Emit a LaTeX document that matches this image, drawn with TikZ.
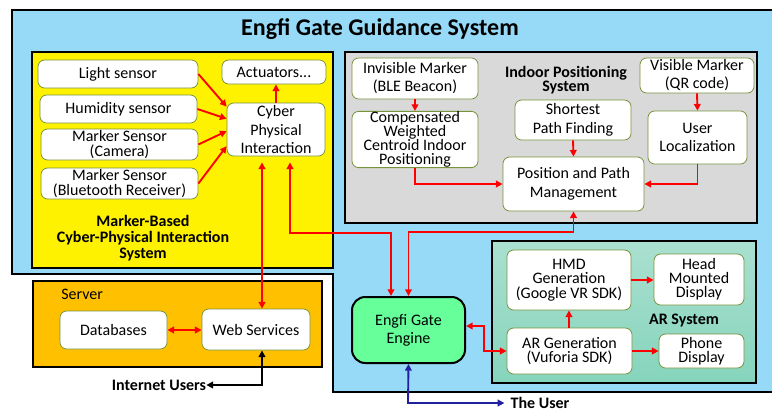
\documentclass[tikz,border=0pt]{standalone}
\usepackage{fontspec}
\setmainfont{Carlito}
\usetikzlibrary{arrows.meta,calc}
\definecolor{bgblue}{RGB}{150,218,248}
\definecolor{ygreen}{RGB}{119,147,60}
\definecolor{gray1}{RGB}{217,217,217}
\definecolor{orng}{RGB}{255,192,0}
\definecolor{engreen}{RGB}{102,255,153}
\definecolor{artop}{RGB}{170,224,208}
\definecolor{arbot}{RGB}{134,212,188}
\definecolor{navy1}{RGB}{32,32,160}
\lineskiplimit=-20pt
\lineskip=0pt
\begin{document}
\begin{tikzpicture}[x=0.75pt,y=-0.75pt,
  >={Triangle[length=5pt,width=5pt]},
  rc/.style n args={4}{minimum width={(#3-#1)*0.75pt}, minimum height={(#4-#2)*0.75pt},
    at={({(#1+#3)/2},{(#2+#4)/2})}},
  box/.style={draw=ygreen, fill=white, rounded corners=5pt, line width=0.6pt, align=center, inner sep=0pt,
    font=\fontsize{12}{14}\selectfont},
  tight/.style={font=\fontsize{12}{10.6}\selectfont},
  mid/.style={font=\fontsize{12}{13.5}\selectfont},
  cont/.style={draw=black, line width=1.5pt, inner sep=0pt},
  lbl/.style={font=\fontsize{12}{11}\selectfont\bfseries, align=center, inner sep=0pt},
  ra/.style={draw=red, line width=1.4pt},
  ka/.style={draw=black, line width=1.4pt},
  ba/.style={draw=navy1, line width=1.4pt}]
\useasboundingbox (0,0) rectangle (772,412);
% outer region
\draw[draw=black, line width=1.5pt, fill=bgblue] (12,10) -- (774,10) -- (774,392) -- (333,392) -- (333,274) -- (12,274) -- cycle;
\node[font=\fontsize{18}{20}\selectfont\bfseries] (title) at (380,29) {Engfi Gate Guidance System};
% containers
\node[cont, fill=yellow, rc={32}{52}{333}{268}] (ybox) {};
\node[cont, fill=gray1, rc={345}{52}{757}{223}] (gbox) {};
\node[cont, top color=artop, bottom color=arbot, rc={492}{241}{756}{383}] (arbox) {};
\node[cont, fill=orng, rc={33}{281}{322}{367}] (sbox) {};
% yellow nodes
\node[box, rc={38}{60}{198}{88}] (light) {Light sensor};
\node[box, rc={40}{95}{197}{123}] (hum) {Humidity sensor};
\node[box, tight, rc={41}{129}{198}{160}] (cam) {Marker Sensor\\(Camera)};
\node[box, tight, rc={41}{168}{198}{199}] (bt) {Marker Sensor\\(Bluetooth Receiver)};
\node[box, rc={222}{60}{326}{84}] (act) {Actuators...};
\node[box, rc={227}{103}{325}{156}] (cpi) {Cyber\\Physical\\Interaction};
\node[lbl, font=\fontsize{12}{11.8}\selectfont\bfseries] (ylbl) at (143,238) {Marker-Based\\Cyber-Physical Interaction\\System};
% gray nodes
\node[box, mid, rc={352}{58}{478}{99}] (ble) {Invisible Marker\\(BLE Beacon)};
\node[box, tight, rc={352}{113}{478}{166}] (cwc) {Compensated\\Weighted\\Centroid Indoor\\Positioning};
\node[lbl] (glbl) at (566,80) {Indoor Positioning\\System};
\node[box, rc={515}{100}{631}{140}] (spf) {Shortest\\Path Finding};
\node[box, mid, rc={640}{58}{754}{93}] (qr) {Visible Marker\\(QR code)};
\node[box, rc={648}{111}{747}{164}] (ul) {User\\Localization};
\node[box, rc={503}{157}{644}{211}] (ppm) {Position and Path\\Management};
% AR nodes
\node[box, font=\fontsize{12}{10.8}\selectfont, rc={507}{250}{631}{310}] (hmdg) {HMD\\Generation\\(Google VR SDK)};
\node[box, tight, rc={654}{254}{744}{305}] (hmd) {Head\\Mounted\\Display};
\node[lbl] (arlbl) at (684,321) {AR System};
\node[box, tight, rc={507}{328}{632}{374}] (arg) {AR Generation\\(Vuforia SDK)};
\node[box, tight, rc={659}{334}{744}{368}] (phone) {Phone\\Display};
% engine
\node[draw=black, line width=1.5pt, fill=engreen, rounded corners=10pt, rc={352}{297}{465}{363}, inner sep=0pt, align=center,
  font=\fontsize{12}{13.5}\selectfont] (engine) {Engfi Gate\\Engine};
% server
\node[font=\fontsize{12}{14}\selectfont, anchor=west, inner sep=0pt] (slbl) at (61,294) {Server};
\node[box, rc={60}{311}{167}{349}] (db) {Databases};
\node[box, rc={202}{309}{310}{350}] (ws) {Web Services};
% free texts
\node[lbl] (iu) at (159,385) {Internet Users};
\node[lbl] (user) at (540,403) {The User};
% arrows: sensors
\draw[ra,->] (light.east) -- ($(cpi.north west)!0.075!(cpi.south west)$);
\draw[ra,->] (hum.east) -- ($(cpi.north west)!0.30!(cpi.south west)$);
\draw[ra,->] (cam.east) -- ($(cpi.north west)!0.53!(cpi.south west)$);
\draw[ra,->] (bt.east) -- ($(cpi.north west)!0.81!(cpi.south west)$);
\draw[ra,->] (cpi.north) -- (cpi.north |- act.south);
% CPI <-> web services, CPI <-> engine
\draw[ra,<->, shorten <=4.5pt] (262,0 |- cpi.south) -- (262,0 |- ws.north);
\draw[ra,<->, shorten <=4.5pt] (290,0 |- cpi.south) -- (290,233) -- (391,233) -- (391,0 |- engine.north);
\draw[ra,<->] (ppm.south) -- (ppm.south |- 0,232) -| (engine.north);
% indoor positioning
\draw[ra,->] (ble.south) -- (cwc.north);
\draw[ra,->] (qr.south) -- (ul.north);
\draw[ra,->] (spf.south) -- (ppm.north);
\draw[ra,->] (cwc.south) |- (ppm.west);
\draw[ra,->] (ul.south) |- (ppm.east);
% AR
\draw[ra,<->] ($(engine.east)+(0,-4)$) -- (484,326) -- (484,0 |- arg.west) -- (arg.west);
\draw[ra,->] (arg.north -| 569,0) -- (569,0 |- hmdg.south);
\draw[ra,->] (hmdg.east |- 0,280) -- (hmd.west |- 0,280);
\draw[ra,->] (arg.east) -- (phone.west |- arg.east);
% server
\draw[ra,<->] (db.east) -- (ws.west |- db.east);
\draw[ka,<->] (262,0 |- ws.south) -- (262,385) -- (iu.east);
% user
\draw[ba,<->] (engine.south) -- (408,403) -- ($(user.west)+(-6,0)$);
\end{tikzpicture}
\end{document}
